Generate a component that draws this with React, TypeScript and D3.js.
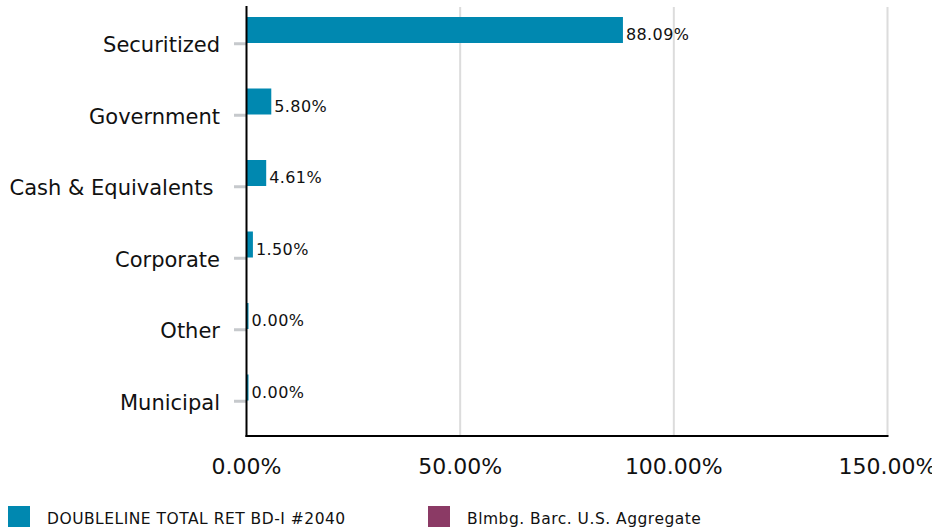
import React from "react";
import * as d3 from "d3";

const categories = ["Securitized", "Government", "Cash & Equivalents ", "Corporate", "Other", "Municipal"];
const fundValues = [88.09, 5.8, 4.61, 1.5, 0, 0];
const benchValues: (number | null)[] = [null, null, null, null, null, null];
const seriesNames = ["DOUBLELINE TOTAL RET BD-I #2040", "Blmbg. Barc. U.S. Aggregate"];
const seriesColors = ["#0088b0", "#8b3a65"];
const xTicks = [0, 50, 100, 150];

export default function App() {
  const W = 932, H = 531;
  const x0 = 246.5, x1 = 887.5, yTop = 7, yBot = 436;
  const x = d3.scaleLinear().domain([0, 150]).range([x0, x1]);
  const y = d3.scaleBand<string>().domain(categories).range([yTop, yBot]).paddingInner(0).paddingOuter(0);
  const inner = d3.scaleBand<string>().domain(["a", "b"]).range([10, 62]);
  const font = "'DejaVu Sans', Verdana, sans-serif";

  return (
    <svg width={W} height={H} style={{ position: "absolute", left: 0, top: 0, fontFamily: font }}>
      {xTicks.slice(1).map((t) => (
        <line key={t} x1={x(t)} x2={x(t)} y1={yTop} y2={yBot} stroke="#dcdcdc" strokeWidth={2} />
      ))}
      {categories.map((c, i) => {
        const by = y(c)!;
        const cy = by + y.bandwidth() / 2;
        const v = fundValues[i];
        const top = by + inner("a")!;
        const h = inner.bandwidth();
        const w = Math.max(x(v) - x0, 2);
        const b = benchValues[i];
        return (
          <g key={c}>
            <line x1={234} x2={246} y1={cy + 1} y2={cy + 1} stroke="#c6c9cc" strokeWidth={3} />
            <text x={220} y={cy + 2} dy="0.35em" textAnchor="end" fontSize={21} fill="#111" style={{ whiteSpace: "pre" }}>
              {c}
            </text>
            <rect x={x0} y={top} width={w} height={h} fill={seriesColors[0]} />
            <text x={x0 + w + 3} y={top + h - 3} fontSize={16} letterSpacing={0.4} fill="#111">
              {v.toFixed(2) + "%"}
            </text>
            {b != null && (
              <rect x={x0} y={by + inner("b")!} width={x(b) - x0} height={h} fill={seriesColors[1]} />
            )}
          </g>
        );
      })}
      <line x1={x0} x2={x0} y1={yTop - 1} y2={yBot + 1} stroke="#000" strokeWidth={2} />
      <line x1={x0 - 1} x2={x1 + 1} y1={yBot} y2={yBot} stroke="#000" strokeWidth={2} />
      {xTicks.map((t) => (
        <text key={t} x={x(t)} y={466} dy="0.35em" textAnchor="middle" fontSize={22} fill="#111">
          {t.toFixed(2) + "%"}
        </text>
      ))}
      {seriesNames.map((n, i) => {
        const lx = i === 0 ? 8 : 428;
        return (
          <g key={n}>
            <rect x={lx} y={506} width={22} height={21} fill={seriesColors[i]} />
            <text x={lx + 39} y={519} dy="0.35em" fontSize={15.5} letterSpacing={0.5} fill="#111">
              {n}
            </text>
          </g>
        );
      })}
    </svg>
  );
}
